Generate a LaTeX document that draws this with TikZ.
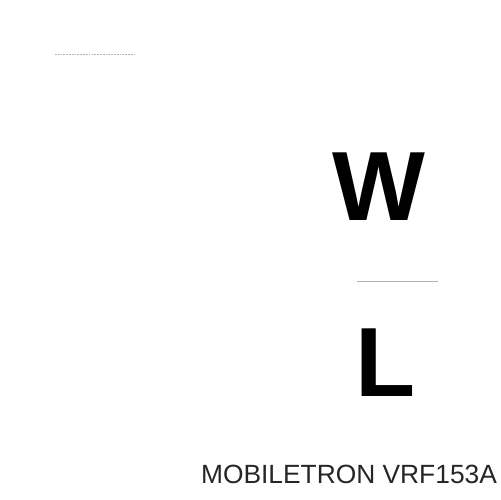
\documentclass[tikz,border=0pt]{standalone}
\usepackage{fontspec}
\setmainfont{Liberation Sans}
\begin{document}
\begin{tikzpicture}[x=0.02cm,y=-0.02cm]
\tikzset{bigletter/.style={inner sep=0pt, font=\fontsize{56}{60}\selectfont\bfseries},
         rule/.style={gray!60, line width=0.5pt}}
\useasboundingbox (0,0) rectangle (500,500);
\node[bigletter] (wletter) at (379,187){W};
\node[bigletter] (lletter) at (386,363){L};
\node[inner sep=0pt, font=\fontsize{15}{18}\selectfont, text=black!85] (brand) at (349,474){MOBILETRON VRF153A};
\coordinate (ta) at (55,54);
\coordinate (tb) at (135,54);
\coordinate (ma) at (357,281);
\coordinate (mb) at (438,281);
\draw[rule, dash pattern=on 1pt off 0.6pt] (ta) -- (tb);
\draw[rule] (ma) -- (mb);

\end{tikzpicture}
\end{document}
